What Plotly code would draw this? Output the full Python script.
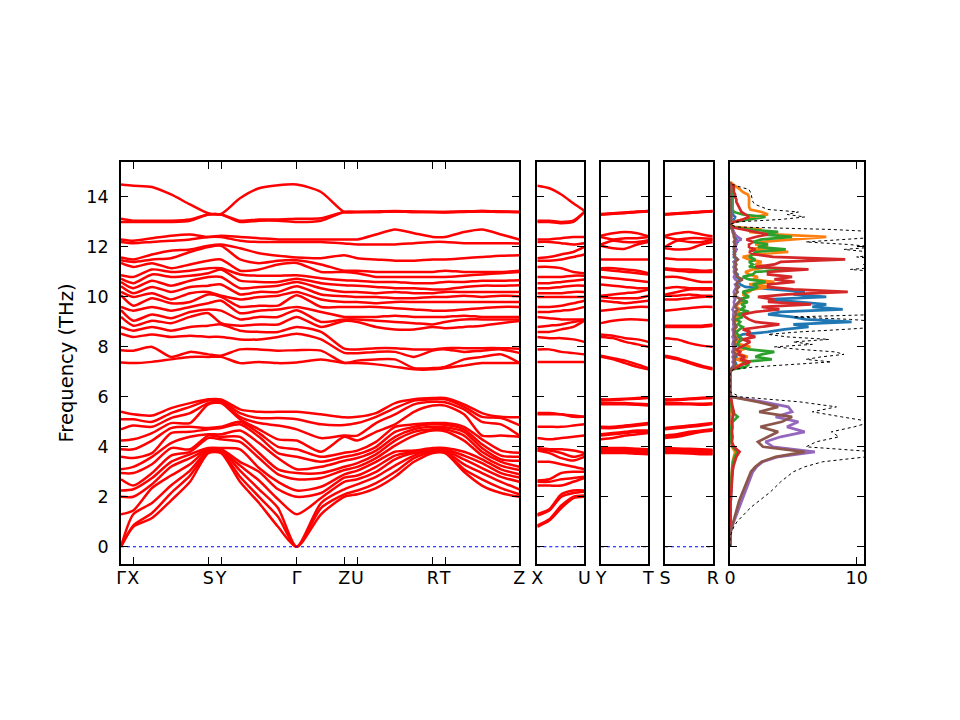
import plotly.graph_objects as go

# ---------------------------------------------------------------- band data
# main path  Γ-X-S-Y-Γ-Z-U-R-T-Z  (distance along path, arbitrary units)
K_MAIN = [0, 12.3, 31, 50, 69, 87.3, 100, 119, 138, 157, 175.7, 200, 223.3,
          236.3, 255, 274, 293, 311.7, 324, 343, 361, 380, 398.3]
TICKS_MAIN = [0, 12.3, 87.3, 100, 175.7, 223.3, 236.3, 311.7, 324, 398.3]
LABELS_MAIN = ["Γ", "X", "S", "Y", "Γ", "Z", "U", "R", "T", "Z"]

# frequencies (THz) at each k sample, acoustic + low optical group
LOW_MAIN = [
    [0, 0, 0, 1.3, 2.0, 2.25, 2.7, 2.95, 3.1, 3.6, 3.9, 4.25, 4.7, 5.1, 5.4],
    [0.8, 0.85, 1.3, 1.45, 2.0, 2.3, 2.45, 2.95, 3.2, 3.55, 3.9, 4.3, 4.85, 5.1, 5.3],
    [1.15, 1.35, 1.75, 2.35, 2.5, 2.75, 2.95, 3.3, 3.6, 3.75, 4.25, 4.55, 4.8, 5.0, 5.25],
    [1.85, 2.15, 2.45, 2.85, 3.2, 3.4, 3.65, 3.95, 4.15, 4.55, 4.75, 4.95, 5.15, 5.35, 5.55],
    [2.6, 2.85, 3.05, 3.3, 3.55, 3.7, 3.8, 3.9, 4.4, 4.6, 4.8, 4.95, 5.35, 5.6, 5.75],
    [3.75, 3.8, 3.85, 3.9, 3.9, 3.95, 4.35, 4.45, 4.5, 4.7, 4.75, 5.7, 5.75, 5.85, 5.9],
    [3.75, 3.8, 3.85, 3.85, 3.9, 3.95, 4.3, 4.4, 4.5, 4.75, 4.8, 5.75, 5.8, 5.85, 5.9],
    [2.6, 2.8, 3.05, 3.25, 3.4, 3.9, 4.2, 4.4, 4.65, 4.9, 5.0, 5.1, 5.2, 5.35, 5.5],
    [1.75, 2.0, 2.3, 2.65, 3.0, 3.15, 3.55, 3.75, 4.15, 4.4, 4.55, 4.7, 4.95, 5.15, 5.4],
    [0.8, 1.2, 1.55, 1.9, 2.3, 2.6, 2.9, 3.1, 3.55, 3.75, 4.0, 4.3, 4.85, 5.15, 5.4],
    [0, 0, 0, 1.3, 2.0, 2.25, 2.7, 2.95, 3.1, 3.6, 3.9, 4.25, 4.7, 5.1, 5.4],
    [1.3, 1.55, 1.75, 1.95, 2.15, 2.4, 2.75, 2.95, 3.2, 3.4, 3.6, 3.8, 4.35, 4.9, 5.3],
    [2.0, 2.1, 2.3, 2.6, 2.77, 2.9, 3.07, 3.2, 3.44, 3.6, 3.76, 4.4, 4.45, 4.87, 5.18],
    [2.1, 2.25, 2.5, 2.7, 2.85, 3.05, 3.2, 3.35, 3.55, 3.7, 3.85, 4.25, 4.45, 4.95, 5.2],
    [2.35, 2.55, 2.8, 3.0, 3.2, 3.4, 3.55, 3.7, 3.85, 4.0, 4.2, 4.6, 4.95, 5.2, 5.35],
    [2.8, 3.0, 3.25, 3.5, 3.65, 3.8, 4.05, 4.25, 4.4, 4.6, 4.8, 4.9, 5.3, 5.55, 5.75],
    [3.4, 3.55, 3.65, 3.75, 3.8, 3.85, 4.45, 4.6, 4.7, 4.8, 4.9, 5.4, 5.7, 5.85, 5.9],
    [3.75, 3.8, 3.85, 3.85, 3.9, 3.95, 4.65, 4.7, 4.8, 4.9, 4.95, 5.65, 5.8, 5.9, 5.95],
    [3.75, 3.78, 3.82, 3.85, 3.9, 3.95, 4.62, 4.7, 4.78, 4.88, 4.95, 5.65, 5.78, 5.9, 5.95],
    [3.0, 3.1, 3.3, 3.5, 3.65, 3.8, 4.25, 4.45, 4.6, 4.7, 4.8, 5.3, 5.5, 5.6, 5.7],
    [2.45, 2.7, 2.95, 3.15, 3.35, 3.5, 3.65, 3.8, 3.95, 4.1, 4.3, 4.45, 5.0, 5.2, 5.35],
    [2.15, 2.35, 2.6, 2.8, 2.95, 3.1, 3.25, 3.4, 3.5, 3.65, 3.85, 4.45, 4.9, 5.15, 5.2],
    [2.0, 2.1, 2.3, 2.6, 2.77, 2.9, 3.07, 3.2, 3.44, 3.6, 3.76, 4.4, 4.45, 4.87, 5.18],
]

# high optical group
HIGH_MAIN = [
    [7.38, 7.87, 8.53, 8.8, 9.2, 9.47, 9.6, 10.07, 10.2, 10.43, 10.6, 10.73, 10.87, 11.36, 11.47, 11.58, 12.2, 12.3, 13.0, 13.13, 14.5],
    [7.35, 7.85, 8.4, 8.65, 8.85, 9.05, 9.45, 9.65, 10.0, 10.15, 10.35, 10.55, 10.8, 11.2, 11.4, 11.5, 12.15, 12.25, 13.0, 13.05, 14.45],
    [7.4, 8.0, 8.5, 8.8, 9.05, 9.3, 9.6, 9.95, 10.15, 10.4, 10.65, 10.9, 11.1, 11.35, 11.5, 11.7, 12.2, 12.35, 13.0, 13.05, 14.4],
    [7.5, 7.6, 8.4, 8.65, 8.95, 9.15, 9.45, 9.75, 9.9, 10.2, 10.45, 10.8, 11.0, 11.15, 11.55, 11.85, 12.25, 12.45, 13.0, 13.05, 14.1],
    [7.6, 7.8, 8.45, 8.8, 9.2, 9.4, 9.6, 9.8, 10.15, 10.4, 10.65, 10.85, 11.05, 11.3, 11.8, 11.9, 12.3, 12.5, 13.05, 13.1, 13.7],
    [7.6, 7.7, 8.4, 8.85, 9.35, 9.5, 9.75, 10.1, 10.2, 10.45, 10.8, 10.95, 11.15, 11.45, 12.0, 12.05, 12.4, 12.4, 13.3, 13.3, 13.35],
    [7.6, 7.65, 8.4, 8.9, 8.95, 9.45, 9.85, 10.0, 10.05, 10.5, 10.8, 11.1, 11.15, 11.5, 12.05, 12.1, 12.4, 12.45, 13.3, 13.3, 13.32],
    [7.35, 7.9, 8.3, 8.65, 8.85, 9.1, 9.35, 9.6, 9.9, 10.1, 10.35, 10.65, 10.9, 11.05, 11.5, 11.95, 12.25, 12.4, 13.0, 13.05, 13.95],
    [7.4, 7.9, 8.3, 8.6, 8.9, 9.2, 9.45, 9.65, 10.0, 10.2, 10.4, 10.6, 10.85, 11.1, 11.35, 11.75, 12.2, 12.35, 13.05, 13.1, 14.35],
    [7.35, 7.85, 8.4, 8.6, 8.9, 9.2, 9.5, 9.65, 10.05, 10.2, 10.45, 10.6, 10.85, 11.3, 11.45, 11.65, 12.2, 12.3, 13.05, 13.1, 14.47],
    [7.38, 7.87, 8.53, 8.8, 9.2, 9.47, 9.6, 10.07, 10.2, 10.43, 10.6, 10.73, 10.87, 11.36, 11.47, 11.58, 12.2, 12.3, 13.0, 13.13, 14.5],
    [7.5, 7.85, 8.3, 8.6, 8.8, 9.0, 9.4, 9.6, 9.9, 10.1, 10.35, 10.55, 10.75, 11.0, 11.3, 11.55, 12.2, 12.3, 13.05, 13.15, 14.2],
    [7.36, 7.36, 7.76, 7.93, 9.04, 9.1, 9.2, 9.6, 9.8, 10.03, 10.2, 10.47, 10.67, 11.0, 11.05, 11.67, 12.14, 12.3, 13.4, 13.4, 13.4],
    [7.35, 7.45, 7.75, 7.9, 9.0, 9.1, 9.2, 9.6, 9.8, 10.0, 10.2, 10.45, 10.65, 10.95, 11.05, 11.55, 12.1, 12.3, 13.4, 13.4, 13.4],
    [7.3, 7.5, 7.8, 7.95, 8.8, 9.05, 9.2, 9.6, 9.75, 10.0, 10.15, 10.4, 10.6, 10.8, 11.0, 11.5, 12.1, 12.5, 13.4, 13.4, 13.42],
    [7.2, 7.5, 7.8, 7.95, 8.7, 9.0, 9.25, 9.55, 9.8, 9.95, 10.2, 10.35, 10.6, 10.8, 11.0, 11.45, 12.1, 12.7, 13.42, 13.42, 13.44],
    [7.1, 7.15, 7.6, 7.9, 8.7, 8.95, 9.2, 9.5, 9.8, 9.95, 10.15, 10.35, 10.55, 10.8, 11.0, 11.45, 12.15, 12.55, 13.4, 13.4, 13.42],
    [7.1, 7.15, 7.85, 7.9, 8.8, 8.9, 9.2, 9.45, 9.8, 10.0, 10.15, 10.3, 10.55, 10.8, 11.0, 11.5, 12.2, 12.4, 13.4, 13.4, 13.4],
    [7.15, 7.2, 7.9, 7.95, 8.75, 9.0, 9.2, 9.45, 9.8, 10.0, 10.2, 10.3, 10.6, 10.8, 11.05, 11.5, 12.2, 12.4, 13.38, 13.4, 13.4],
    [7.25, 7.5, 7.8, 7.95, 8.8, 9.1, 9.25, 9.5, 9.8, 10.05, 10.2, 10.4, 10.6, 10.85, 11.0, 11.55, 12.15, 12.6, 13.4, 13.42, 13.42],
    [7.35, 7.6, 7.85, 7.95, 8.85, 9.1, 9.2, 9.55, 9.8, 10.0, 10.2, 10.45, 10.65, 10.9, 11.0, 11.6, 12.15, 12.7, 13.42, 13.44, 13.44],
    [7.35, 7.7, 7.9, 7.95, 8.95, 9.1, 9.2, 9.6, 9.8, 10.05, 10.2, 10.45, 10.65, 10.95, 11.0, 11.65, 12.15, 12.5, 13.4, 13.42, 13.42],
    [7.36, 7.36, 7.76, 7.93, 9.04, 9.1, 9.2, 9.6, 9.8, 10.03, 10.2, 10.47, 10.67, 11.0, 11.05, 11.67, 12.14, 12.3, 13.4, 13.4, 13.4],
]

# short paths X-U, Y-T, S-R
K_SHORT = [0, 12, 24, 36, 47]

LOW_XU = [
    [0.8, 0.85, 1.25, 1.3, 2.45, 2.6, 2.65, 3.4, 3.85, 3.9, 3.95, 4.35, 4.8, 5.3, 5.35],
    [1.05, 1.1, 1.45, 1.5, 2.45, 2.6, 2.7, 3.4, 3.75, 3.85, 3.9, 4.3, 4.8, 5.3, 5.35],
    [1.55, 1.65, 2.0, 2.1, 2.45, 2.7, 2.95, 3.3, 3.55, 3.75, 3.9, 4.35, 4.8, 5.3, 5.3],
    [1.95, 2.0, 2.15, 2.25, 2.6, 2.75, 3.0, 3.2, 3.45, 3.6, 3.85, 4.4, 4.85, 5.2, 5.25],
    [2.0, 2.05, 2.2, 2.25, 2.75, 2.8, 3.0, 3.1, 3.6, 3.7, 3.75, 4.45, 4.9, 5.2, 5.2],
]
HIGH_XU = [
    [7.4, 7.9, 8.4, 8.6, 8.8, 9.2, 9.4, 9.6, 10.0, 10.15, 10.35, 10.55, 10.8, 11.2, 11.45, 11.55, 12.2, 12.3, 13.0, 13.05, 14.45],
    [7.4, 7.9, 8.35, 8.6, 8.85, 9.15, 9.4, 9.6, 10.0, 10.15, 10.35, 10.55, 10.8, 11.2, 11.45, 11.6, 12.2, 12.3, 13.0, 13.05, 14.35],
    [7.4, 7.8, 8.35, 8.7, 8.9, 9.1, 9.45, 9.65, 10.0, 10.15, 10.4, 10.6, 10.8, 11.15, 11.5, 11.7, 12.15, 12.35, 12.95, 13.0, 14.1],
    [7.4, 7.75, 8.3, 8.8, 9.0, 9.1, 9.5, 9.75, 10.0, 10.2, 10.45, 10.65, 10.85, 11.0, 11.6, 11.8, 12.1, 12.4, 13.0, 13.05, 13.75],
    [7.4, 7.7, 8.2, 9.05, 9.07, 9.1, 9.6, 9.85, 10.0, 10.2, 10.45, 10.7, 10.85, 10.95, 11.7, 12.0, 12.15, 12.4, 13.4, 13.4, 13.45],
]

LOW_YT = [
    [3.75, 3.8, 3.8, 3.85, 3.9, 3.95, 4.3, 4.45, 4.5, 4.75, 4.8, 5.7, 5.75, 5.85, 5.9],
    [3.75, 3.8, 3.8, 3.85, 3.9, 3.95, 4.35, 4.5, 4.55, 4.75, 4.8, 5.7, 5.75, 5.87, 5.9],
    [3.75, 3.78, 3.8, 3.85, 3.9, 3.95, 4.45, 4.55, 4.6, 4.8, 4.85, 5.7, 5.75, 5.9, 5.92],
    [3.72, 3.75, 3.8, 3.85, 3.88, 3.92, 4.5, 4.6, 4.65, 4.85, 4.9, 5.68, 5.72, 5.92, 5.95],
    [3.7, 3.72, 3.8, 3.82, 3.88, 3.9, 4.55, 4.6, 4.65, 4.9, 4.95, 5.65, 5.7, 5.95, 5.98],
]
HIGH_YT = [
    [7.6, 7.65, 8.4, 8.5, 8.95, 9.45, 9.85, 10.0, 10.05, 10.5, 10.8, 11.1, 11.15, 11.5, 12.05, 12.1, 12.4, 12.45, 13.3, 13.3, 13.32],
    [7.5, 7.55, 8.35, 8.45, 9.05, 9.5, 9.8, 9.95, 10.1, 10.45, 10.75, 11.05, 11.15, 11.5, 11.95, 12.25, 12.3, 12.55, 13.33, 13.33, 13.35],
    [7.35, 7.45, 8.2, 8.35, 9.1, 9.55, 9.75, 9.95, 10.15, 10.4, 10.7, 11.0, 11.1, 11.5, 11.93, 12.2, 12.35, 12.6, 13.36, 13.36, 13.38],
    [7.2, 7.3, 8.1, 8.3, 9.1, 9.6, 9.8, 9.95, 10.2, 10.35, 10.65, 10.95, 11.05, 11.5, 12.1, 12.2, 12.35, 12.55, 13.4, 13.4, 13.42],
    [7.1, 7.15, 8.0, 8.2, 9.07, 9.6, 9.85, 10.05, 10.3, 10.35, 10.6, 10.9, 10.95, 11.5, 12.2, 12.27, 12.4, 12.43, 13.42, 13.44, 13.44],
]

LOW_SR = [
    [3.75, 3.8, 3.85, 3.9, 3.9, 3.95, 4.35, 4.4, 4.45, 4.7, 4.75, 5.7, 5.75, 5.85, 5.9],
    [3.75, 3.8, 3.82, 3.88, 3.9, 3.93, 4.4, 4.45, 4.5, 4.75, 4.8, 5.7, 5.75, 5.87, 5.9],
    [3.73, 3.78, 3.8, 3.85, 3.88, 3.92, 4.5, 4.55, 4.6, 4.8, 4.85, 5.7, 5.73, 5.9, 5.93],
    [3.7, 3.75, 3.78, 3.85, 3.87, 3.9, 4.6, 4.62, 4.65, 4.85, 4.9, 5.68, 5.72, 5.93, 5.96],
    [3.7, 3.72, 3.78, 3.82, 3.85, 3.88, 4.65, 4.68, 4.7, 4.92, 4.95, 5.7, 5.74, 5.95, 5.98],
]
HIGH_SR = [
    [7.6, 7.65, 8.35, 8.8, 8.85, 9.45, 9.9, 10.05, 10.1, 10.35, 10.8, 11.1, 11.15, 11.55, 11.95, 12.0, 12.4, 12.45, 13.3, 13.3, 13.32],
    [7.5, 7.55, 8.3, 8.8, 8.85, 9.5, 9.9, 10.05, 10.2, 10.4, 10.8, 11.05, 11.1, 11.5, 11.9, 12.25, 12.3, 12.55, 13.33, 13.33, 13.35],
    [7.35, 7.4, 8.15, 8.8, 8.85, 9.55, 9.95, 10.1, 10.3, 10.35, 10.7, 11.0, 11.1, 11.5, 11.93, 12.2, 12.35, 12.6, 13.36, 13.36, 13.38],
    [7.2, 7.25, 8.05, 8.8, 8.85, 9.6, 10.0, 10.05, 10.3, 10.35, 10.6, 11.0, 11.05, 11.5, 12.1, 12.2, 12.35, 12.5, 13.4, 13.4, 13.42],
    [7.1, 7.15, 8.0, 8.85, 8.9, 9.6, 10.0, 10.05, 10.3, 10.35, 10.6, 11.0, 11.07, 11.5, 12.2, 12.3, 12.33, 12.43, 13.42, 13.44, 13.44],
]

# ---------------------------------------------------------------- DOS data
DOS_FREQ_LOW = [0.0, 0.2, 0.4, 0.6, 0.8, 1.0, 1.2, 1.4, 1.6, 1.8,
                2.0, 2.2, 2.4, 2.6, 2.8, 3.0, 3.2, 3.4, 3.6, 3.8,
                4.0, 4.2, 4.4, 4.6, 4.8, 5.0, 5.2, 5.4, 5.6, 5.8,
                6.0, 6.2]
DOS_FREQ_HIGH = [7.0, 7.1, 7.2, 7.3, 7.4, 7.5, 7.6, 7.7, 7.8, 7.9,
                 8.0, 8.1, 8.2, 8.3, 8.4, 8.5, 8.6, 8.7, 8.8, 8.9,
                 9.0, 9.1, 9.2, 9.3, 9.4, 9.5, 9.6, 9.7, 9.8, 9.9,
                 10.0, 10.1, 10.2, 10.3, 10.4, 10.5, 10.6, 10.7, 10.8, 10.9,
                 11.0, 11.1, 11.2, 11.3, 11.4, 11.5, 11.6, 11.7, 11.8, 11.9,
                 12.0, 12.1, 12.2, 12.3, 12.4, 12.5, 12.6, 12.7, 12.8, 12.9,
                 13.0, 13.1, 13.2, 13.3, 13.4, 13.5, 13.6, 13.7, 13.8, 13.9,
                 14.0, 14.1, 14.2, 14.3, 14.4, 14.5, 14.6]

DOS_TOTAL_LOW = [0, 0, 0, 0.15, 0.3, 0.55, 0.9, 1.3, 1.7, 2.2,
                 2.7, 3.2, 3.6, 4.0, 4.5, 5.0, 5.9, 7.3, 10.8, 11.5,
                 6.0, 6.8, 8.6, 8.0, 9.8, 11.2, 8.8, 6.5, 8.4, 5.5,
                 0.8, 0]
DOS_TOTAL_HIGH = [0, 0.3, 2.0, 5.5, 8.0, 6.0, 7.2, 9.0, 8.3, 5.5,
                  3.5, 6.5, 5.0, 7.8, 4.5, 3.0, 5.5, 9.0, 12, 11,
                  12, 9.5, 5.0, 12, 12, 12, 11, 12, 12, 11,
                  12, 12, 11, 12, 12, 11.5, 10.5, 12, 12, 11,
                  12, 9.5, 12, 10.5, 12, 12, 10, 12, 11, 9.0,
                  11.5, 9.3, 6.0, 10, 12, 12, 12, 8.0, 0.5, 0,
                  0.5, 4.0, 5.9, 4.5, 5.4, 3.0, 2.5, 2.0, 1.8, 1.8,
                  1.7, 1.7, 1.6, 1.5, 0.8, 0.2, 0]

PDOS_LOW = {
    "blue": [0, 0, 0, 0, 0, 0, 0, 0.02, 0.03, 0.05,
             0.07, 0.08, 0.1, 0.12, 0.15, 0.18, 0.22, 0.3, 0.4, 0.55,
             0.2, 0.1, 0.12, 0.1, 0.08, 0.1, 0.12, 0.1, 0.1, 0.1,
             0.05, 0],
    "orange": [0, 0, 0, 0, 0, 0, 0, 0.01, 0.02, 0.03,
               0.04, 0.05, 0.06, 0.08, 0.1, 0.12, 0.15, 0.2, 0.3, 0.4,
               0.15, 0.1, 0.1, 0.08, 0.1, 0.1, 0.15, 0.1, 0.1, 0.1,
               0.05, 0],
    "green": [0, 0, 0, 0, 0, 0, 0, 0.01, 0.02, 0.03,
              0.05, 0.06, 0.08, 0.1, 0.12, 0.15, 0.18, 0.25, 0.35, 0.6,
              0.2, 0.1, 0.1, 0.1, 0.1, 0.2, 0.6, 0.15, 0.1, 0.1,
              0.05, 0],
    "red": [0, 0, 0, 0, 0, 0, 0, 0.02, 0.03, 0.05,
            0.07, 0.09, 0.11, 0.13, 0.16, 0.2, 0.25, 0.35, 0.5, 0.75,
            0.3, 0.15, 0.2, 0.15, 0.2, 0.15, 0.2, 0.3, 0.2, 0.15,
            0.05, 0],
    "purple": [0, 0, 0, 0.05, 0.15, 0.3, 0.45, 0.6, 0.75, 0.9,
               1.05, 1.2, 1.35, 1.5, 1.65, 1.8, 2.1, 2.6, 3.8, 6.7,
               3.4, 2.8, 4.0, 5.9, 4.5, 5.4, 3.6, 4.9, 4.6, 2.6,
               0.1, 0],
    "brown": [0, 0, 0, 0.05, 0.15, 0.25, 0.35, 0.45, 0.55, 0.7,
              0.85, 1.0, 1.2, 1.35, 1.5, 1.65, 2.0, 2.5, 3.6, 5.9,
              2.6, 2.2, 3.0, 3.8, 2.4, 4.1, 4.9, 2.3, 3.8, 2.2,
              0.1, 0],
}

PDOS_HIGH = {
    "blue": [0, 0.1, 0.3, 0.5, 0.4, 0.3, 0.5, 0.3, 0.2, 0.3,
             0.4, 0.6, 0.5, 0.8, 0.6, 1.0, 3.0, 4.3, 6.2, 5.0,
             9.6, 6.0, 4.9, 3.0, 4.0, 8.9, 6.5, 7.6, 5.0, 3.0,
             7.6, 5.0, 5.9, 3.5, 1.2, 0.8, 0.6, 0.8, 0.5, 0.6,
             0.4, 0.5, 0.3, 0.4, 0.3, 0.5, 0.3, 0.4, 0.3, 0.5,
             0.3, 0.4, 0.6, 0.5, 0.4, 0.3, 0.3, 0.2, 0, 0,
             0, 0.3, 0.4, 0.2, 0.2, 0.1, 0.1, 0.1, 0.05, 0.05,
             0.05, 0.05, 0.05, 0.05, 0.05, 0, 0],
    "orange": [0, 0.1, 0.5, 0.8, 1.2, 0.5, 1.4, 0.8, 0.6, 1.0,
               1.6, 0.8, 0.5, 0.6, 0.4, 0.5, 0.3, 0.4, 0.5, 0.3,
               0.4, 0.6, 0.4, 1.0, 0.6, 0.8, 0.5, 0.6, 1.0, 0.8,
               1.3, 1.0, 1.5, 1.8, 3.2, 1.5, 3.5, 1.8, 2.2, 1.5,
               1.2, 1.8, 3.0, 2.0, 2.5, 1.5, 1.0, 2.0, 4.6, 1.5,
               3.0, 2.0, 2.5, 5.0, 7.6, 3.5, 1.5, 2.5, 0.3, 0,
               0.2, 1.0, 1.8, 3.0, 2.5, 1.6, 1.5, 1.5, 1.5, 1.5,
               1.5, 1.4, 1.0, 0.8, 0.5, 0.2, 0],
    "green": [0, 0.2, 1.2, 1.5, 1.0, 3.3, 2.0, 2.5, 3.5, 1.5,
              0.8, 0.6, 0.7, 1.0, 0.8, 0.6, 0.5, 0.8, 1.0, 0.6,
              0.8, 0.5, 1.0, 0.6, 1.5, 0.8, 1.2, 0.9, 1.4, 0.7,
              1.5, 1.2, 1.0, 1.8, 2.2, 1.8, 2.8, 1.5, 1.0, 1.8,
              2.0, 5.0, 1.5, 1.8, 1.5, 2.0, 1.5, 1.8, 2.0, 4.4,
              2.2, 3.0, 1.8, 2.5, 4.9, 2.5, 3.8, 1.5, 0.2, 0,
              0.3, 1.5, 2.8, 1.0, 0.3, 0.2, 0.2, 0.2, 0.2, 0.2,
              0.2, 0.2, 0.2, 0.2, 0.1, 0, 0],
    "red": [0, 0.2, 0.6, 1.0, 1.6, 0.8, 1.2, 0.6, 0.8, 0.5,
            0.9, 1.2, 1.6, 1.0, 2.0, 1.3, 1.6, 1.0, 2.5, 3.9,
            2.0, 1.5, 1.2, 1.0, 2.0, 3.9, 2.5, 6.4, 3.0, 3.5,
            2.2, 4.5, 9.3, 5.0, 3.0, 3.0, 5.1, 3.5, 4.9, 3.0,
            3.0, 6.2, 2.0, 3.5, 4.0, 9.1, 3.4, 2.0, 1.5, 2.0,
            1.5, 1.5, 1.8, 1.3, 2.0, 3.0, 2.0, 1.0, 0.1, 0,
            0.3, 1.0, 1.5, 1.2, 0.9, 0.8, 0.7, 0.6, 0.5, 0.5,
            0.4, 0.4, 0.3, 0.3, 0.3, 0.1, 0],
    "purple": [0, 0.05, 0.2, 0.3, 0.2, 0.3, 0.2, 0.3, 0.2, 0.25,
               0.3, 0.2, 0.25, 0.3, 0.2, 0.3, 0.25, 0.2, 0.3, 0.25,
               0.3, 0.2, 0.3, 0.25, 0.3, 0.2, 0.3, 0.35, 0.3, 0.4,
               0.3, 0.35, 0.3, 0.4, 0.5, 0.4, 0.7, 0.4, 0.3, 0.4,
               0.3, 0.35, 0.3, 0.4, 0.3, 0.6, 0.4, 0.3, 0.4, 0.5,
               0.4, 0.5, 0.4, 0.9, 0.6, 0.4, 0.3, 0.2, 0, 0,
               0, 0.1, 0.1, 0.1, 0.1, 0.05, 0.05, 0.05, 0.05, 0.05,
               0.05, 0.05, 0.05, 0.05, 0.05, 0, 0],
    "brown": [0, 0.05, 0.3, 0.4, 0.3, 0.4, 0.3, 0.5, 0.3, 0.4,
              0.3, 0.4, 0.3, 0.5, 0.4, 0.3, 0.4, 0.3, 0.5, 0.4,
              0.3, 0.4, 0.3, 0.5, 0.4, 0.6, 0.4, 0.5, 0.7, 0.9,
              0.5, 0.4, 0.6, 0.5, 0.7, 0.5, 0.6, 1.0, 0.6, 0.5,
              0.4, 0.5, 0.4, 0.5, 0.4, 0.6, 0.4, 0.3, 0.4, 0.3,
              0.3, 0.4, 0.3, 0.4, 0.3, 0.3, 0.2, 0.2, 0, 0,
              0, 0.05, 0.1, 0.05, 0.05, 0.05, 0.05, 0.05, 0.05, 0.05,
              0.05, 0.05, 0.05, 0.05, 0.05, 0, 0],
}

PDOS_COLORS = {"blue": "#1f77b4", "orange": "#ff7f0e", "green": "#2ca02c",
               "red": "#d62728", "purple": "#9467bd", "brown": "#8c564b"}

ZERO = 0.0

# ---------------------------------------------------------------- figure
fig = go.Figure()

panels = [
    ("x", "y", K_MAIN, LOW_MAIN, HIGH_MAIN),
    ("x2", "y2", K_SHORT, LOW_XU, HIGH_XU),
    ("x3", "y3", K_SHORT, LOW_YT, HIGH_YT),
    ("x4", "y4", K_SHORT, LOW_SR, HIGH_SR),
]
for xa, ya, k, low, high in panels:
    xs, ys = [], []
    for group in (low, high):
        for b in range(len(group[0])):
            xs += list(k) + [None]
            ys += [row[b] for row in group] + [None]
    fig.add_trace(go.Scatter(
        x=xs, y=ys, xaxis=xa, yaxis=ya, mode="lines",
        line=dict(color="#ff0000", width=2.5, shape="spline", smoothing=0.7),
        hoverinfo="skip", showlegend=False))
    fig.add_trace(go.Scatter(
        x=[k[0], k[-1]], y=[ZERO, ZERO], xaxis=xa, yaxis=ya, mode="lines",
        line=dict(color="#0000ff", width=1, dash="dot"),
        hoverinfo="skip", showlegend=False))

# DOS panel
dos_freq = DOS_FREQ_LOW + DOS_FREQ_HIGH
for name in ["blue", "orange", "green", "red", "purple", "brown"]:
    fig.add_trace(go.Scatter(
        x=PDOS_LOW[name] + PDOS_HIGH[name], y=dos_freq, xaxis="x5", yaxis="y5",
        mode="lines", line=dict(color=PDOS_COLORS[name], width=2.7),
        hoverinfo="skip", showlegend=False))
fig.add_trace(go.Scatter(
    x=DOS_TOTAL_LOW + DOS_TOTAL_HIGH, y=dos_freq, xaxis="x5", yaxis="y5",
    mode="lines", line=dict(color="black", width=1, dash="dot"),
    hoverinfo="skip", showlegend=False))

# ---------------------------------------------------------------- axes
TICK_FONT = dict(family="DejaVu Sans", size=17.5, color="black")
TITLE_FONT = dict(family="DejaVu Sans", size=19.5, color="black")
axis_style = dict(showline=True, linecolor="black", linewidth=1.8,
                  mirror="allticks", ticks="inside", ticklen=7, tickwidth=1.3,
                  tickcolor="black", showgrid=False, zeroline=False,
                  tickfont=TICK_FONT, automargin=False)
Y_RANGE = [-0.69, 15.4]
Y_TICKS = [0, 2, 4, 6, 8, 10, 12, 14]

domains = [[0, 0.5361], [0.5603, 0.6236], [0.6460, 0.7097],
           [0.7322, 0.7964], [0.8197, 1.0]]

x_specs = [
    ([0, K_MAIN[-1]], TICKS_MAIN, LABELS_MAIN),
    ([0, K_SHORT[-1]], [K_SHORT[0], K_SHORT[-1]], ["X", "U"]),
    ([0, K_SHORT[-1]], [K_SHORT[0], K_SHORT[-1]], ["Y", "T"]),
    ([0, K_SHORT[-1]], [K_SHORT[0], K_SHORT[-1]], ["S", "R"]),
    ([0, 10.58], [0, 10], ["0", "10"]),
]

layout_axes = {}
for i, (dom, (xr, tv, tt)) in enumerate(zip(domains, x_specs)):
    sfx = "" if i == 0 else str(i + 1)
    layout_axes["xaxis" + sfx] = dict(
        axis_style, domain=dom, range=xr, tickmode="array", tickvals=tv,
        ticktext=tt, anchor="y" + sfx, tickangle=0, ticklabelstandoff=-3)
    layout_axes["yaxis" + sfx] = dict(
        axis_style, domain=[0, 1], range=Y_RANGE, tickmode="array",
        tickvals=Y_TICKS, anchor="x" + sfx, showticklabels=(i == 0),
        ticklabelstandoff=7)

layout_axes["yaxis"]["title"] = dict(text="Frequency (THz)", font=TITLE_FONT, standoff=7)

# page body adds ~8 px offset, so the margins are shifted to compensate
fig.update_layout(
    width=960, height=720,
    margin=dict(l=113, r=104, t=154, b=164),
    paper_bgcolor="white", plot_bgcolor="white",
    showlegend=False,
    font=TICK_FONT,
    **layout_axes,
)

fig.write_html("out.html")
